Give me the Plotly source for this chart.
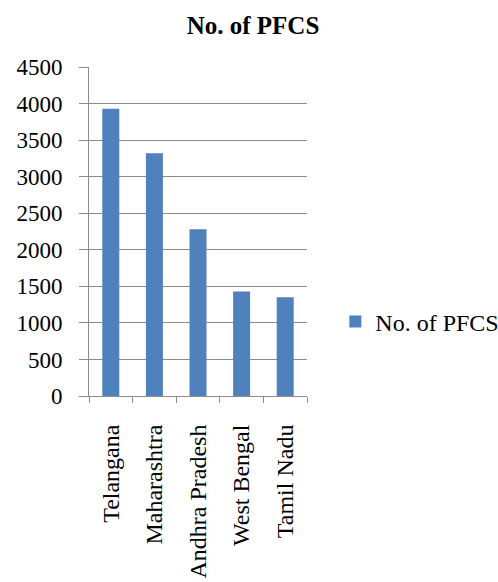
import plotly.graph_objects as go

states = ["Telangana", "Maharashtra", "Andhra Pradesh", "West Bengal", "Tamil Nadu"]
pfcs = [3930, 3320, 2280, 1430, 1350]
y_ticks = [0, 500, 1000, 1500, 2000, 2500, 3000, 3500, 4000, 4500]

serif = "Palatino Linotype, Book Antiqua, Liberation Serif, serif"
grid = "#8c8c8c"

fig = go.Figure(
    go.Bar(
        x=states,
        y=pfcs,
        name="No. of PFCS",
        marker=dict(color="#4f81bd", line=dict(width=0)),
    )
)

fig.update_layout(
    width=498,
    height=582,
    margin=dict(l=89, r=191, t=67, b=186, autoexpand=False),
    paper_bgcolor="white",
    plot_bgcolor="white",
    bargap=0.61,
    font=dict(family=serif, color="black", size=22),
    title=dict(
        text="<b>No. of PFCS</b>",
        x=0.508,
        xanchor="center",
        y=0.957,
        yanchor="middle",
        font=dict(size=25, family=serif),
    ),
    showlegend=True,
    legend=dict(
        x=1.13,
        xanchor="left",
        y=0.225,
        yanchor="middle",
        font=dict(size=24, family=serif),
        itemsizing="constant",
        itemwidth=30,
    ),
)

fig.update_xaxes(
    type="category",
    tickangle=-90,
    showline=True,
    linecolor=grid,
    linewidth=1,
    ticks="outside",
    tickson="boundaries",
    ticklen=6,
    tickcolor=grid,
    showgrid=False,
    ticklabelstandoff=18,
    tickfont=dict(size=24, family=serif),
)

fig.update_yaxes(
    range=[0, 4500],
    tickvals=y_ticks,
    showline=True,
    linecolor=grid,
    linewidth=1,
    ticks="outside",
    ticklen=9,
    tickcolor=grid,
    showgrid=True,
    gridcolor=grid,
    gridwidth=1,
    zeroline=False,
    ticklabelstandoff=12,
    tickfont=dict(size=23, family=serif),
)

fig.write_html("out.html")
